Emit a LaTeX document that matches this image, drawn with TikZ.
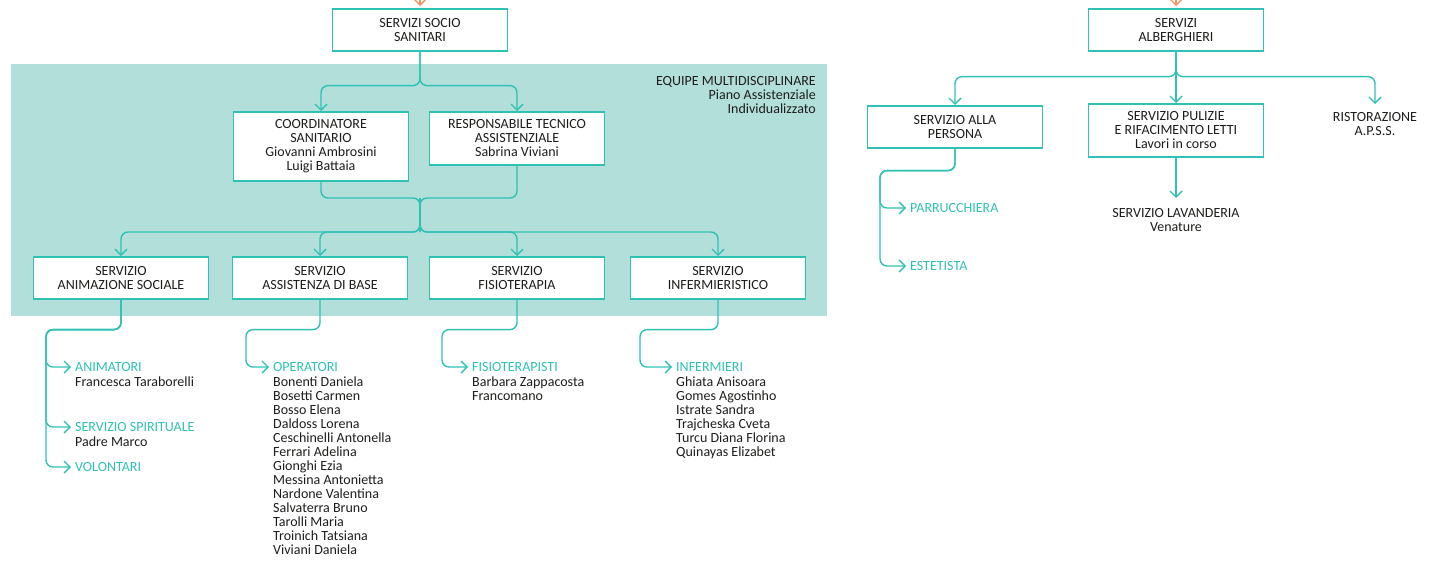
\documentclass[tikz,border=0pt]{standalone}
\usepackage{fontspec}
\setmainfont{Carlito}
\usetikzlibrary{arrows.meta, positioning}
\definecolor{tealline}{HTML}{2FC1B3}
\definecolor{tealback}{HTML}{B2DFDA}
\definecolor{inktext}{HTML}{1D1D1B}
\definecolor{orangeline}{HTML}{F29160}
\tikzstyle{servbox} = [rectangle, draw=tealline, line width=1.6pt, fill=white, minimum width=175pt, minimum height=42pt,
inner xsep=4pt, inner ysep=8pt, align=center, anchor=north, text=inktext]
\tikzstyle{plain} = [inner sep=0pt, align=center, anchor=north, text=inktext]
\tikzstyle{listhead} = [inner sep=0pt, anchor=west, text=tealline]
\tikzstyle{listnames} = [inner sep=0pt, anchor=north west, align=left, text=inktext]
\tikzstyle{conn} = [draw=tealline, line width=1.4pt, rounded corners=7pt]

\begin{document}
\begin{tikzpicture}[x=1pt, y=-1pt, >={Straight Barb[length=6pt,width=12pt]}, font=\fontsize{14}{14}\selectfont]
    \useasboundingbox (0,0) rectangle (1439,565);
    \fill[tealback] (11,64) rectangle (827,316);

    \node(socioSanitari)[servbox] at (420,8) {SERVIZI SOCIO\\SANITARI};
    \node(equipe)[plain, anchor=north east, align=right] at (816,76) {EQUIPE MULTIDISCIPLINARE\\Piano Assistenziale\\Individualizzato};
    \node(coordSanitario)[servbox] at (321,111) {COORDINATORE\\SANITARIO\\Giovanni Ambrosini\\Luigi Battaia};
    \node(respTecnico)[servbox] at (517,111) {RESPONSABILE TECNICO\\ASSISTENZIALE\\Sabrina Viviani};
    \node(sAnimazione)[servbox] at (121,256) {SERVIZIO\\ANIMAZIONE SOCIALE};
    \node(sAssistenza)[servbox] at (320,256) {SERVIZIO\\ASSISTENZA DI BASE};
    \node(sFisioterapia)[servbox] at (517,256) {SERVIZIO\\FISIOTERAPIA};
    \node(sInfermieristico)[servbox] at (718,256) {SERVIZIO\\INFERMIERISTICO};

    \node(animatori)[listhead] at (75,367) {ANIMATORI};
    \node(animatoriNames)[listnames] at ([yshift=-4.5pt]animatori.south west) {Francesca Taraborelli};
    \node(spirituale)[listhead] at (75,427) {SERVIZIO SPIRITUALE};
    \node(spiritualeNames)[listnames] at ([yshift=-4.5pt]spirituale.south west) {Padre Marco};
    \node(volontari)[listhead] at (75,467) {VOLONTARI};
    \node(operatori)[listhead] at (273,367) {OPERATORI};
    \node(operatoriNames)[listnames] at ([yshift=-4.5pt]operatori.south west) {Bonenti Daniela\\Bosetti Carmen\\Bosso Elena\\Daldoss Lorena\\Ceschinelli Antonella\\Ferrari Adelina\\Gionghi Ezia\\Messina Antonietta\\Nardone Valentina\\Salvaterra Bruno\\Tarolli Maria\\Troinich Tatsiana\\Viviani Daniela};
    \node(fisioterapisti)[listhead] at (472,367) {FISIOTERAPISTI};
    \node(fisioterapistiNames)[listnames] at ([yshift=-4.5pt]fisioterapisti.south west) {Barbara Zappacosta\\Francomano};
    \node(infermieri)[listhead] at (676,367) {INFERMIERI};
    \node(infermieriNames)[listnames] at ([yshift=-4.5pt]infermieri.south west) {Ghiata Anisoara\\Gomes Agostinho\\Istrate Sandra\\Trajcheska Cveta\\Turcu Diana Florina\\Quinayas Elizabet};

    \node(servAlberghieri)[servbox] at (1176,8) {SERVIZI\\ALBERGHIERI};
    \node(allaPersona)[servbox] at (955,105) {SERVIZIO ALLA\\PERSONA};
    \node(pulizie)[servbox] at (1176,103) {SERVIZIO PULIZIE\\E RIFACIMENTO LETTI\\Lavori in corso};
    \node(ristorazione)[plain] at (1375,112) {RISTORAZIONE\\A.P.S.S.};
    \node(lavanderia)[plain] at (1176,208) {SERVIZIO LAVANDERIA\\Venature};
    \node(parrucchiera)[listhead] at (910,208) {PARRUCCHIERA};
    \node(estetista)[listhead] at (910,266) {ESTETISTA};

    \coordinate (topSocio) at (420,-14);
    \coordinate (topAlberghi) at (1176,-14);
    \coordinate (mergeTop) at (420,198);
    \coordinate (mergeBot) at (420,232);

    \draw[->, orangeline, line width=1.4pt, shorten >=2pt] (topSocio) -- (socioSanitari.north);
    \draw[->, orangeline, line width=1.4pt, shorten >=2pt] (topAlberghi) -- (servAlberghieri.north);

    \draw[conn, ->] (socioSanitari.south) -- ++(0,34) -| (coordSanitario.north);
    \draw[conn, ->] (socioSanitari.south) -- ++(0,34) -| (respTecnico.north);
    \draw[conn] (coordSanitario.south) |- (mergeTop) -- (mergeBot);
    \draw[conn] (respTecnico.south) |- (mergeTop) -- (mergeBot);
    \foreach \b in {sAnimazione, sAssistenza, sFisioterapia, sInfermieristico}
        \draw[conn, ->] (mergeTop) -- (mergeBot) -| (\b.north);

    \draw[conn, ->] (sAnimazione.south) -- ++(0,30) -- ++(-75,0) |- ([xshift=-4pt]animatori.west);
    \draw[conn, ->] (sAnimazione.south) -- ++(0,30) -- ++(-75,0) |- ([xshift=-4pt]spirituale.west);
    \draw[conn, ->] (sAnimazione.south) -- ++(0,30) -- ++(-75,0) |- ([xshift=-4pt]volontari.west);
    \draw[conn, ->] (sAssistenza.south) -- ++(0,30) -- ++(-74,0) |- ([xshift=-4pt]operatori.west);
    \draw[conn, ->] (sFisioterapia.south) -- ++(0,30) -- ++(-75,0) |- ([xshift=-4pt]fisioterapisti.west);
    \draw[conn, ->] (sInfermieristico.south) -- ++(0,30) -- ++(-78,0) |- ([xshift=-4pt]infermieri.west);

    \draw[conn, ->] (servAlberghieri.south) -- ++(0,25) -| (allaPersona.north);
    \draw[conn, ->] (servAlberghieri.south) -- (pulizie.north);
    \draw[conn, ->, shorten >=8pt] (servAlberghieri.south) -- ++(0,25) -| (ristorazione.north);
    \draw[conn, ->, shorten >=10pt] (pulizie.south) -- (lavanderia.north);
    \draw[conn, ->] (allaPersona.south) -- ++(0,22) -- ++(-75,0) |- ([xshift=-4pt]parrucchiera.west);
    \draw[conn, ->] (allaPersona.south) -- ++(0,22) -- ++(-75,0) |- ([xshift=-4pt]estetista.west);
\end{tikzpicture}
\end{document}
